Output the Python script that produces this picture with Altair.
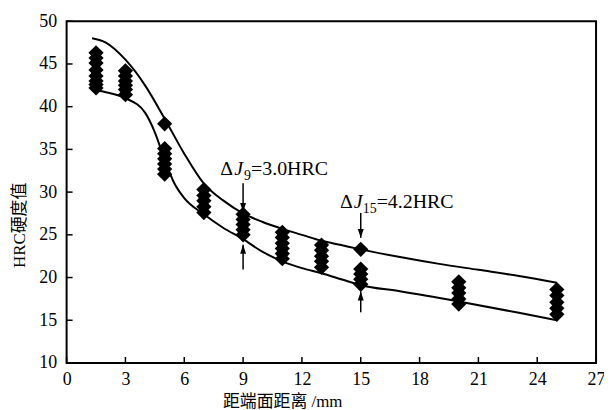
import altair as alt
import pandas as pd

# ---- data ----
pos_15 = [46.3, 45.7, 45.1, 44.3, 43.6, 43.0, 42.6, 42.2]
pos_3 = [44.2, 43.6, 43.0, 42.5, 42.0, 41.4]
pos_5 = [38.0, 35.1, 34.5, 33.9, 33.3, 32.7, 32.1]
pos_7 = [30.3, 29.6, 29.0, 28.3, 27.6]
pos_9 = [27.4, 26.8, 26.2, 25.6, 25.0]
pos_11 = [25.3, 24.7, 24.0, 23.4, 22.8, 22.2]
pos_13 = [23.8, 23.2, 22.5, 21.9, 21.2]
pos_15mm = [23.3, 21.0, 20.4, 19.8, 19.2]
pos_20 = [19.5, 18.8, 18.2, 17.5, 16.9]
pos_25 = [18.6, 17.9, 17.1, 16.4, 15.7]
groups = {1.5: pos_15, 3: pos_3, 5: pos_5, 7: pos_7, 9: pos_9, 11: pos_11,
          13: pos_13, 15: pos_15mm, 20: pos_20, 25: pos_25}

upper_x = [1.3, 2, 3, 4, 5, 6, 7, 8, 9, 10, 11, 12, 13, 14, 15, 17, 19, 21, 23, 25]
upper_y = [48.0, 47.5, 45.5, 42.5, 38.6, 34.5, 31.0, 29.0, 27.5, 26.5, 25.7, 25.0,
           24.3, 23.8, 23.3, 22.4, 21.6, 20.9, 20.2, 19.4]
lower_x = [1.3, 2, 3, 4, 4.5, 5, 5.5, 6, 7, 8, 9, 10, 11, 12, 13, 14, 15, 17, 20, 23, 25]
lower_y = [42.0, 41.7, 41.0, 39.3, 37.0, 33.8, 31.0, 29.3, 27.4, 25.8, 24.5, 23.0,
           21.9, 21.1, 20.5, 19.8, 19.1, 18.4, 17.2, 15.9, 15.0]

x_ticks = [0, 3, 6, 9, 12, 15, 18, 21, 24, 27]
y_ticks = [10, 15, 20, 25, 30, 35, 40, 45, 50]

ann_x = [9, 15]
ann_y = [32.0, 28.1]
ann_sub = ["9", "15"]
ann_rest = ["=3.0HRC", "=4.2HRC"]
down_from = [31.05, 27.56]
down_to = [27.67, 24.65]
up_from = [20.93, 15.93]
up_to = [23.84, 18.37]

# ---- tables ----
pts = pd.DataFrame([{"x": k, "y": v} for k, vs in groups.items() for v in vs])
up = pd.DataFrame({"x": upper_x, "y": upper_y})
lo = pd.DataFrame({"x": lower_x, "y": lower_y})
xt = pd.DataFrame({"x": x_ticks})
yt = pd.DataFrame({"y": y_ticks})
ann = pd.DataFrame({"x": ann_x, "y": ann_y, "sub": ann_sub, "rest": ann_rest})
arr = pd.DataFrame({"x": ann_x * 2, "y": down_from + up_from, "y2": down_to + up_to,
                    "dir": ["down", "down", "up", "up"]})

FONT = "Liberation Serif"
CJK = "Liberation Serif, Noto Sans CJK SC"
W, H = 533, 344

xs = alt.Scale(domain=[0, 27], nice=False, zero=False)
ys = alt.Scale(domain=[10, 50], nice=False, zero=False)

xaxis = alt.Axis(values=x_ticks, tickSize=0, domain=False, grid=False, labelFont=FONT,
                 labelFontSize=18, labelColor="black", labelPadding=8,
                 title="距端面距离 /mm", titleFont=CJK, titleFontSize=17,
                 titleFontWeight="normal", titleColor="black", titleX=217, titleY=39,
                 titleAlign="center", titleBaseline="middle", labelFlush=False)
yaxis = alt.Axis(values=y_ticks, tickSize=0, domain=False, grid=False, labelFont=FONT,
                 labelFontSize=18, labelColor="black", labelPadding=10,
                 title="HRC硬度值", titleFont=CJK, titleFontSize=17,
                 titleFontWeight="normal", titleColor="black", titleX=-47, titleY=205,
                 titleAlign="center", titleBaseline="middle", labelFlush=False)

base_pts = alt.Chart(pts).mark_point(shape="diamond", filled=True, color="black",
                                     size=235, opacity=1).encode(
    x=alt.X("x:Q", scale=xs, axis=xaxis),
    y=alt.Y("y:Q", scale=ys, axis=yaxis))

line_up = alt.Chart(up).mark_line(color="black", strokeWidth=2, interpolate="monotone").encode(
    x=alt.X("x:Q", scale=xs), y=alt.Y("y:Q", scale=ys))
line_lo = alt.Chart(lo).mark_line(color="black", strokeWidth=2, interpolate="monotone").encode(
    x=alt.X("x:Q", scale=xs), y=alt.Y("y:Q", scale=ys))

xtick = alt.Chart(xt).mark_rule(color="black", strokeWidth=1.5).encode(
    x=alt.X("x:Q", scale=xs), y=alt.value(H), y2=alt.value(H - 6))
ytick = alt.Chart(yt).mark_rule(color="black", strokeWidth=1.5).encode(
    y=alt.Y("y:Q", scale=ys), x=alt.value(0), x2=alt.value(6))

shafts = alt.Chart(arr).mark_rule(color="black", strokeWidth=1.5).encode(
    x=alt.X("x:Q", scale=xs), y=alt.Y("y:Q", scale=ys), y2="y2:Q")
head_down = alt.Chart(arr).transform_filter(alt.datum.dir == "down").mark_point(
    shape="M-0.6,-1.8L0.6,-1.8L0,0Z", filled=True, color="black", size=100, opacity=1).encode(
    x=alt.X("x:Q", scale=xs), y=alt.Y("y2:Q", scale=ys))
head_up = alt.Chart(arr).transform_filter(alt.datum.dir == "up").mark_point(
    shape="M-0.6,1.8L0.6,1.8L0,0Z", filled=True, color="black", size=100, opacity=1).encode(
    x=alt.X("x:Q", scale=xs), y=alt.Y("y2:Q", scale=ys))

enc = dict(x=alt.X("x:Q", scale=xs), y=alt.Y("y:Q", scale=ys))


def label_layers(sub, d_delta, d_j, d_sub, d_rest):
    src = alt.Chart(ann).transform_filter(alt.datum.sub == sub)
    common = dict(font=FONT, align="left", baseline="alphabetic", color="black")
    return [
        src.mark_text(text="Δ", fontSize=20, dx=d_delta, **common).encode(**enc),
        src.mark_text(text="J", fontSize=20, fontStyle="italic", dx=d_j, **common).encode(**enc),
        src.mark_text(fontSize=14, dx=d_sub, dy=5, **common).encode(text="sub:N", **enc),
        src.mark_text(fontSize=20, dx=d_rest, **common).encode(text="rest:N", **enc),
    ]


labels = label_layers("9", -23, -9, 1, 8) + label_layers("15", -21, -7, 2, 16)

chart = alt.layer(base_pts, line_up, line_lo, xtick, ytick, shafts, head_down, head_up,
                  *labels).properties(
    width=W, height=H,
    autosize=alt.AutoSizeParams(type="none"),
    padding={"left": 59, "top": 12, "right": 8, "bottom": 46},
    background="white",
).configure_view(stroke="black", strokeWidth=2)

chart.save("out.html", embed_options={"renderer": "svg", "actions": False})
